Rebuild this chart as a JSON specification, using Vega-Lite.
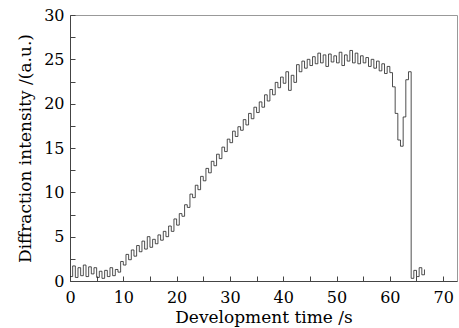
{
  "$schema": "https://vega.github.io/schema/vega-lite/v6.json",
  "width": 387,
  "height": 266,
  "autosize": {"type": "none"},
  "padding": {"left": 70, "top": 15, "right": 2, "bottom": 47},
  "background": "white",
  "config": {
    "view": {"stroke": "#999", "strokeWidth": 1},
    "font": "DejaVu Serif",
    "axis": {
      "labelFont": "DejaVu Serif",
      "titleFont": "DejaVu Serif",
      "labelFontSize": 16,
      "titleFontSize": 17,
      "titleFontWeight": "normal",
      "labelColor": "#000",
      "titleColor": "#000",
      "domainColor": "#444",
      "tickColor": "#444",
      "grid": false
    }
  },
  "data": {
    "values": [
      {"t": 0, "v": 0.5}, {"t": 0.5, "v": 1.7}, {"t": 1, "v": 0.4}, {"t": 1.5, "v": 1.5},
      {"t": 2, "v": 0.6}, {"t": 2.5, "v": 1.8}, {"t": 3, "v": 0.5}, {"t": 3.5, "v": 1.6},
      {"t": 4, "v": 0.8}, {"t": 4.5, "v": 1.5}, {"t": 5, "v": 0.4}, {"t": 5.5, "v": 1.1},
      {"t": 6, "v": 0.3}, {"t": 6.5, "v": 1.2}, {"t": 7, "v": 0.5}, {"t": 7.5, "v": 1.5},
      {"t": 8, "v": 0.6}, {"t": 8.5, "v": 1.3}, {"t": 9, "v": 1.0}, {"t": 9.5, "v": 2.2},
      {"t": 10, "v": 1.8}, {"t": 10.5, "v": 3.0}, {"t": 11, "v": 2.4}, {"t": 11.5, "v": 3.5},
      {"t": 12, "v": 2.8}, {"t": 12.5, "v": 4.0}, {"t": 13, "v": 3.3}, {"t": 13.5, "v": 4.5},
      {"t": 14, "v": 3.6}, {"t": 14.5, "v": 5.0}, {"t": 15, "v": 3.8}, {"t": 15.5, "v": 4.7},
      {"t": 16, "v": 4.2}, {"t": 16.5, "v": 5.2}, {"t": 17, "v": 4.6}, {"t": 17.5, "v": 5.6},
      {"t": 18, "v": 5.0}, {"t": 18.5, "v": 6.2}, {"t": 19, "v": 5.6}, {"t": 19.5, "v": 7.0},
      {"t": 20, "v": 6.3}, {"t": 20.5, "v": 7.6}, {"t": 21, "v": 7.3}, {"t": 21.5, "v": 8.6},
      {"t": 22, "v": 8.3}, {"t": 22.5, "v": 9.8}, {"t": 23, "v": 9.4}, {"t": 23.5, "v": 10.8},
      {"t": 24, "v": 10.3}, {"t": 24.5, "v": 11.8}, {"t": 25, "v": 11.3}, {"t": 25.5, "v": 12.7},
      {"t": 26, "v": 12.2}, {"t": 26.5, "v": 13.5}, {"t": 27, "v": 13.0}, {"t": 27.5, "v": 14.3},
      {"t": 28, "v": 13.8}, {"t": 28.5, "v": 15.1}, {"t": 29, "v": 14.6}, {"t": 29.5, "v": 16.0},
      {"t": 30, "v": 15.6}, {"t": 30.5, "v": 16.9}, {"t": 31, "v": 16.3}, {"t": 31.5, "v": 17.4},
      {"t": 32, "v": 17.0}, {"t": 32.5, "v": 18.2}, {"t": 33, "v": 17.6}, {"t": 33.5, "v": 18.9},
      {"t": 34, "v": 18.3}, {"t": 34.5, "v": 19.6}, {"t": 35, "v": 19.0}, {"t": 35.5, "v": 20.2},
      {"t": 36, "v": 19.6}, {"t": 36.5, "v": 21.0}, {"t": 37, "v": 20.3}, {"t": 37.5, "v": 21.6},
      {"t": 38, "v": 21.0}, {"t": 38.5, "v": 22.4}, {"t": 39, "v": 21.8}, {"t": 39.5, "v": 23.0},
      {"t": 40, "v": 22.3}, {"t": 40.5, "v": 23.6}, {"t": 41, "v": 21.5}, {"t": 41.5, "v": 23.2},
      {"t": 42, "v": 22.4}, {"t": 42.5, "v": 24.4}, {"t": 43, "v": 23.6}, {"t": 43.5, "v": 24.8},
      {"t": 44, "v": 24.0}, {"t": 44.5, "v": 25.0}, {"t": 45, "v": 24.3}, {"t": 45.5, "v": 25.3},
      {"t": 46, "v": 24.5}, {"t": 46.5, "v": 25.7}, {"t": 47, "v": 24.6}, {"t": 47.5, "v": 25.5},
      {"t": 48, "v": 24.2}, {"t": 48.5, "v": 25.6}, {"t": 49, "v": 24.7}, {"t": 49.5, "v": 25.4},
      {"t": 50, "v": 24.6}, {"t": 50.5, "v": 25.8}, {"t": 51, "v": 24.3}, {"t": 51.5, "v": 25.5},
      {"t": 52, "v": 24.8}, {"t": 52.5, "v": 26.0}, {"t": 53, "v": 24.6}, {"t": 53.5, "v": 25.7},
      {"t": 54, "v": 24.5}, {"t": 54.5, "v": 25.4}, {"t": 55, "v": 24.6}, {"t": 55.5, "v": 25.2},
      {"t": 56, "v": 24.2}, {"t": 56.5, "v": 25.0}, {"t": 57, "v": 24.0}, {"t": 57.5, "v": 24.8},
      {"t": 58, "v": 23.7}, {"t": 58.5, "v": 24.5}, {"t": 59, "v": 23.4}, {"t": 59.5, "v": 24.2},
      {"t": 60, "v": 23.5}, {"t": 60.5, "v": 21.9}, {"t": 61, "v": 18.9}, {"t": 61.5, "v": 15.9},
      {"t": 62, "v": 15.2}, {"t": 62.5, "v": 18.5}, {"t": 63, "v": 22.7}, {"t": 63.5, "v": 23.6},
      {"t": 64, "v": 0.3}, {"t": 64.5, "v": 1.2}, {"t": 65, "v": 0.5}, {"t": 65.5, "v": 1.5},
      {"t": 66, "v": 0.7}, {"t": 66.5, "v": 1.3}
    ]
  },
  "mark": {"type": "line", "interpolate": "step-after", "color": "#222", "strokeWidth": 0.8},
  "encoding": {
    "x": {
      "field": "t", "type": "quantitative",
      "scale": {"domain": [0, 72.6], "nice": false, "zero": false},
      "axis": {
        "title": "Development time /s",
        "values": [0, 5, 10, 15, 20, 25, 30, 35, 40, 45, 50, 55, 60, 65, 70],
        "labelExpr": "datum.value % 10 === 0 ? datum.label : ''",
        "tickSize": -5,
        "labelPadding": 13,
        "titlePadding": 4,
        "labelFlush": false
      }
    },
    "y": {
      "field": "v", "type": "quantitative",
      "scale": {"domain": [0, 30], "nice": false},
      "axis": {
        "title": "Diffraction intensity /(a.u.)",
        "values": [0, 2.5, 5, 7.5, 10, 12.5, 15, 17.5, 20, 22.5, 25, 27.5, 30],
        "labelExpr": "datum.value % 5 === 0 ? datum.label : ''",
        "tickSize": -5,
        "labelPadding": 11,
        "titlePadding": 9,
        "labelFlush": false
      }
    }
  }
}
